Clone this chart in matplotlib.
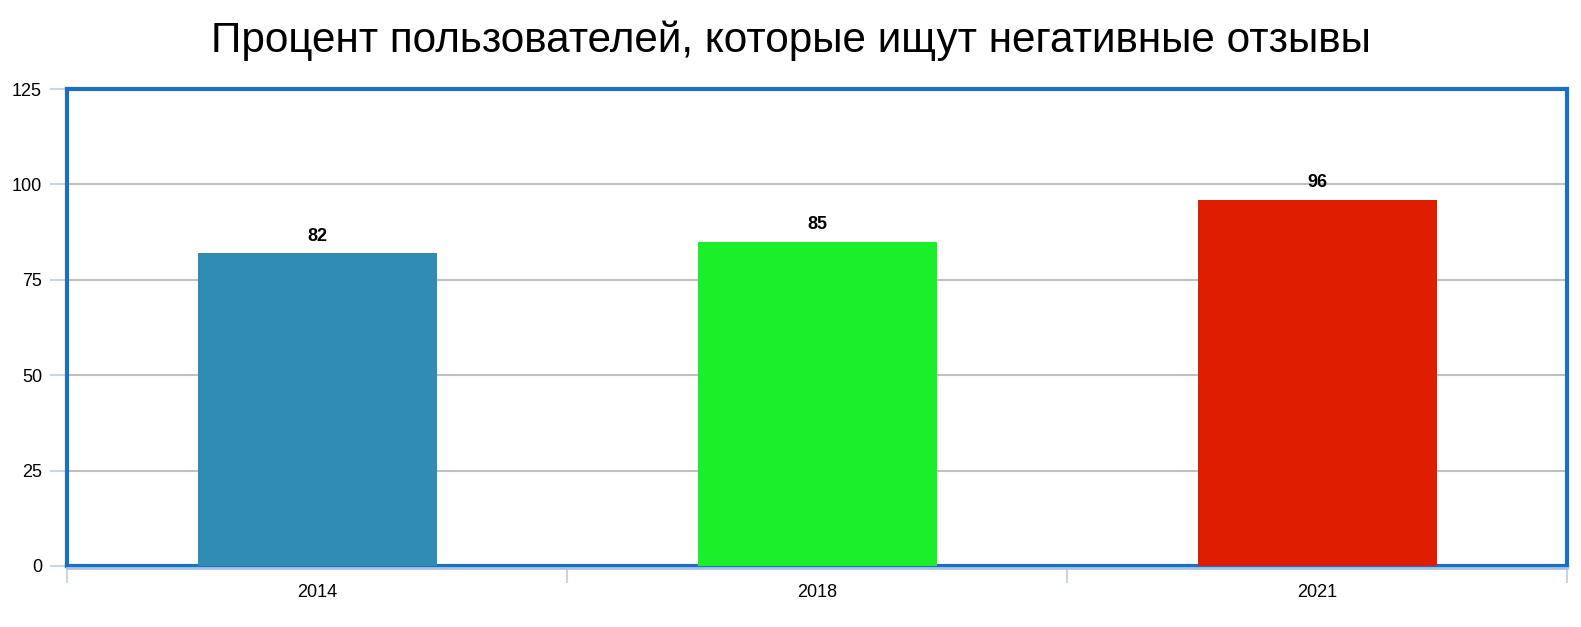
import matplotlib
matplotlib.use("Agg")
import matplotlib.pyplot as plt
from matplotlib.lines import Line2D

plt.rcParams['font.family'] = ['Liberation Sans', 'DejaVu Sans']

# data
years = ['2014', '2018', '2021']
values = [82, 85, 96]
bar_colors = ['#318cb5', '#1bef2a', '#df1e00']
title = 'Процент пользователей, которые ищут негативные отзывы'

fig = plt.figure(figsize=(15.81, 6.27), dpi=100)
ax = fig.add_axes([67 / 1581, 1 - 566 / 627, 1500 / 1581, 477 / 627])

x = list(range(len(years)))
bars = ax.bar(x, values, width=0.478, color=bar_colors, zorder=3)

ax.set_xlim(-0.5, len(years) - 0.5)
ax.set_ylim(0, 125)
ax.set_yticks([0, 25, 50, 75, 100, 125])
ax.yaxis.grid(True, color='#c0c0c0', linewidth=1.5, zorder=0)

for sp in ax.spines.values():
    sp.set_color('#1a70c8')
    sp.set_linewidth(3)

ax.tick_params(axis='y', length=12, width=1.5, color='#c8d6e8', pad=6, labelsize=13)
ax.set_xticks(x)
ax.set_xticklabels(years)
ax.tick_params(axis='x', which='major', length=0, pad=13, labelsize=13)
ax.set_xticks([i - 0.5 for i in range(len(years) + 1)], minor=True)
ax.tick_params(axis='x', which='minor', length=12, width=1.5, color='#c8d6e8')

# light axis line under the frame
ax.add_line(Line2D([0, 1], [-0.004, -0.004], transform=ax.transAxes,
                   color='#a8c4e2', linewidth=2, clip_on=False, zorder=5))

for b, v in zip(bars, values):
    ax.annotate(str(v), (b.get_x() + b.get_width() / 2, v), xytext=(0, 6),
                textcoords='offset points', ha='center', va='bottom',
                fontsize=13, fontweight='bold')

fig.text(0.5, 1 - 52 / 627, title, ha='center', va='baseline', fontsize=30.4)

fig.savefig('out.png', dpi=100)
